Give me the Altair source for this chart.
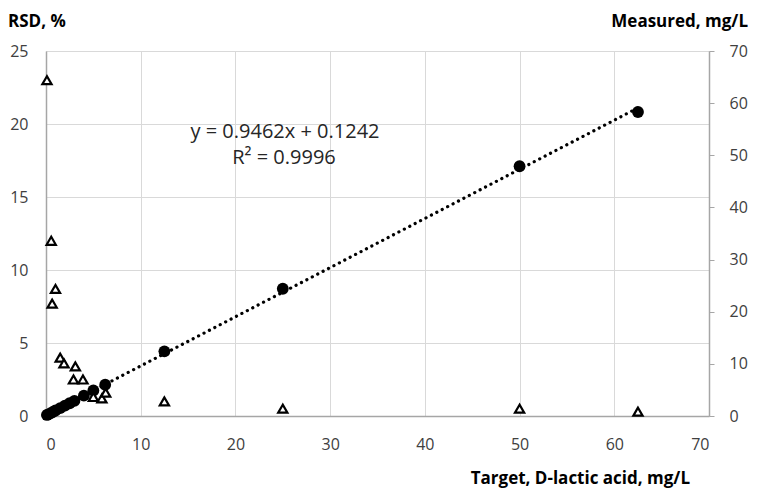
import altair as alt
import pandas as pd

# Measured concentration vs target (filled circles, right axis)
target_measured = [0.1, 0.25, 0.5, 0.75, 1.0, 1.5, 2.0, 2.5, 3.0, 4.0, 5.0, 6.25, 12.5, 25.0, 50.0, 62.5]
measured = [0.2, 0.3, 0.55, 0.8, 1.05, 1.5, 2.0, 2.45, 2.9, 3.9, 4.9, 6.0, 12.4, 24.4, 47.9, 58.3]

# RSD vs target (open triangles, left axis)
target_rsd = [0.1, 0.55, 0.65, 1.0, 1.5, 1.9, 2.9, 3.1, 3.9, 5.0, 5.9, 6.3, 12.5, 25.0, 50.0, 62.5]
rsd = [23.0, 12.0, 7.7, 8.7, 4.0, 3.6, 2.5, 3.4, 2.5, 1.3, 1.2, 1.6, 1.0, 0.5, 0.5, 0.3]

x_ticks = [0, 10, 20, 30, 40, 50, 60, 70]
rsd_ticks = [0, 5, 10, 15, 20, 25]
measured_ticks = [0, 10, 20, 30, 40, 50, 60, 70]

x_title = "Target, D-lactic acid, mg/L"
left_title = "RSD, %"
right_title = "Measured, mg/L"
equation_text = "y = 0.9462x + 0.1242"
r2_text = "R² = 0.9996"

FONT = "Open Sans"
AXIS_GREY = "#a6a6a6"
GRID_GREY = "#d9d9d9"
LABEL_COLOR = "#404040"

df_m = pd.DataFrame({"target": target_measured, "measured": measured})
df_r = pd.DataFrame({"target": target_rsd, "rsd": rsd})

x_enc = alt.X(
    "target:Q",
    scale=alt.Scale(domain=[0, 70], nice=False),
    axis=alt.Axis(
        values=x_ticks, grid=True, gridColor=GRID_GREY, ticks=False,
        domainColor=AXIS_GREY, domainWidth=1.5,
        labelFont=FONT, labelFontSize=16, labelColor=LABEL_COLOR, labelPadding=20,
        title=None,
    ),
)

y_meas = alt.Y(
    "measured:Q",
    scale=alt.Scale(domain=[0, 70], nice=False),
    axis=alt.Axis(
        orient="right", values=measured_ticks, grid=False,
        ticks=True, tickSize=5, tickColor=AXIS_GREY, domainColor=AXIS_GREY, domainWidth=1.5,
        labelFont=FONT, labelFontSize=16, labelColor=LABEL_COLOR, labelPadding=15,
        title=None,
    ),
)

y_rsd = alt.Y(
    "rsd:Q",
    scale=alt.Scale(domain=[0, 25], nice=False),
    axis=alt.Axis(
        orient="left", values=rsd_ticks, grid=True, gridColor=GRID_GREY,
        ticks=False, domainColor=AXIS_GREY, domainWidth=1.5,
        labelFont=FONT, labelFontSize=16, labelColor=LABEL_COLOR, labelPadding=18,
        title=None,
    ),
)

base_m = alt.Chart(df_m)
circles = base_m.mark_point(shape="circle", filled=True, color="black", size=140, opacity=1).encode(
    x=x_enc, y=y_meas
)
trend = base_m.transform_regression("target", "measured").mark_line(
    color="black", strokeWidth=3.2, strokeDash=[0.1, 6], strokeCap="round"
).encode(x=x_enc, y=y_meas)

right_layer = alt.layer(circles, trend)

triangles = alt.Chart(df_r).mark_point(
    shape="triangle-up", filled=True, fill="white", stroke="black", strokeWidth=2.2, size=85, opacity=1
).encode(x=x_enc, y=y_rsd)


def label(text, x, y, align, size, bold=False, color="#262626", baseline="middle"):
    return alt.Chart(pd.DataFrame({"t": [text]})).mark_text(
        font=FONT, fontSize=size, color=color, align=align, baseline=baseline,
        fontWeight="bold" if bold else "normal",
    ).encode(text="t:N", x=alt.value(x), y=alt.value(y))


eq = label(equation_text, 239, 81, "center", 20)
r2 = label(r2_text, 238, 107, "center", 20)
t_left = label(left_title, -38, -37, "left", 17, bold=True, color="black", baseline="top")
t_right = label(right_title, 702, -37, "right", 17, bold=True, color="black", baseline="top")
t_x = label(x_title, 644, 428, "right", 17, bold=True, color="black")

chart = alt.layer(right_layer, triangles, eq, r2, t_left, t_right, t_x).resolve_scale(y="independent").properties(
    width=663, height=365,
    autosize=alt.AutoSizeParams(type="none"),
    padding={"left": 38, "top": 43, "right": 43, "bottom": 75},
).configure_view(stroke=None).configure(background="white")

chart.save("out.html", embed_options={"renderer": "svg", "actions": False})
